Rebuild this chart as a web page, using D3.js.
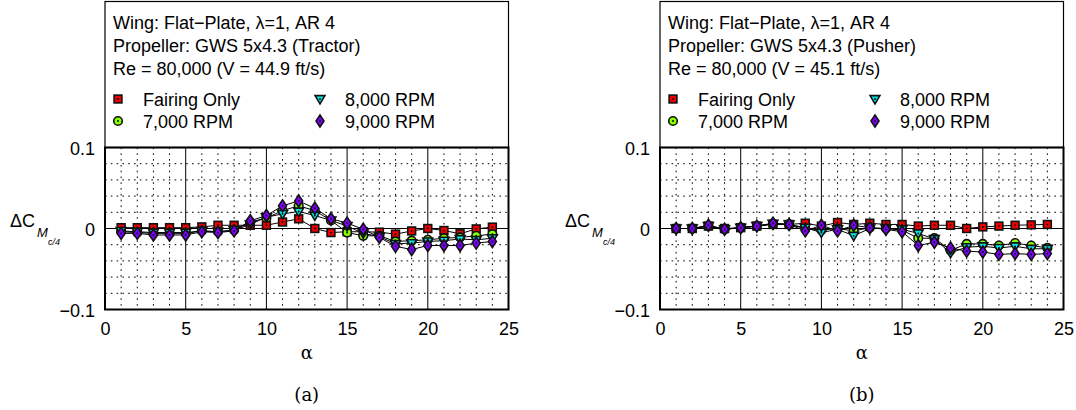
<!DOCTYPE html>
<html><head><meta charset="utf-8">
<script src="https://cdn.jsdelivr.net/npm/d3@7"></script>
<style>body{margin:0;background:#fff}svg{display:block}</style>
</head><body>
<svg id="c" width="1076" height="410"></svg>
<script>
const alpha = [1,2,3,4,5,6,7,8,9,10,11,12,13,14,15,16,17,18,19,20,21,22,23,24];
const xTicks = [0,5,10,15,20,25];
const yTicks = [-0.1,0,0.1];
const seriesNames = ["Fairing Only","7,000 RPM","8,000 RPM","9,000 RPM"];

// (a) Tractor
const fairingA = [0.001,0.001,0.001,0.001,0.001,0.002,0.004,0.004,0.004,0.004,0.008,0.012,0.000,-0.005,-0.004,-0.004,-0.0045,-0.007,-0.003,0.000,-0.0025,-0.0065,-0.0005,0.0017];
const rpm7A = [-0.004,-0.005,-0.006,-0.006,-0.006,-0.003,-0.004,-0.002,0.008,0.013,0.022,0.028,0.022,0.010,-0.005,-0.009,-0.009,-0.016,-0.015,-0.014,-0.012,-0.011,-0.009,-0.007];
const rpm8A = [-0.003,-0.004,-0.005,-0.005,-0.005,-0.003,-0.004,-0.002,0.005,0.014,0.018,0.021,0.016,0.010,0.003,-0.006,-0.010,-0.019,-0.018,-0.016,-0.015,-0.013,-0.014,-0.012];
const rpm9A = [-0.006,-0.006,-0.008,-0.008,-0.008,-0.004,-0.005,-0.003,0.0095,0.016,0.028,0.034,0.025,0.012,0.0067,-0.001,-0.011,-0.022,-0.026,-0.021,-0.021,-0.021,-0.018,-0.016];

// (b) Pusher
const fairingB = [0.000,0.000,0.003,0.000,0.001,0.003,0.005,0.005,0.0065,0.003,0.0074,0.005,0.0065,0.005,0.005,0.003,0.004,0.004,0.000,0.002,0.003,0.004,0.0045,0.005];
const rpm7B = [0.000,0.000,0.003,-0.001,0.001,0.003,0.006,0.005,0.000,-0.002,0.000,-0.003,0.001,0.000,-0.002,-0.012,-0.012,-0.027,-0.019,-0.019,-0.021,-0.018,-0.021,-0.024];
const rpm8B = [0.000,0.000,0.003,-0.001,0.001,0.003,0.006,0.005,0.001,-0.005,-0.001,-0.009,0.000,0.000,-0.001,-0.006,-0.013,-0.030,-0.023,-0.022,-0.024,-0.022,-0.025,-0.025];
const rpm9B = [0.000,0.000,0.004,-0.001,0.001,0.003,0.0065,0.005,-0.003,0.004,-0.003,0.004,0.001,-0.001,-0.004,-0.021,-0.017,-0.024,-0.028,-0.029,-0.032,-0.031,-0.032,-0.031];

const panels = [
  {ox:105, caption:"(a)", lines:["Wing: Flat\u2212Plate, \u03bb=1, AR 4","Propeller: GWS 5x4.3 (Tractor)","Re = 80,000 (V = 44.9 ft/s)"], data:[fairingA,rpm7A,rpm8A,rpm9A]},
  {ox:660, caption:"(b)", lines:["Wing: Flat\u2212Plate, \u03bb=1, AR 4","Propeller: GWS 5x4.3 (Pusher)","Re = 80,000 (V = 45.1 ft/s)"], data:[fairingB,rpm7B,rpm8B,rpm9B]}
];

const colors = ["#ee0000","#88ff00","#00e8e8","#7f00ff"];
const shapes = ["square","circle","triangle","diamond"];
const FONT = "'Liberation Sans', Arial, Helvetica, sans-serif";
const SERIF = "'DejaVu Serif', 'Liberation Serif', serif";

const svg = d3.select("#c");

function marker(g, shape, color, cx, cy) {
  const m = g.append("g").attr("transform", `translate(${cx},${cy})`);
  let p;
  if (shape === "square") p = m.append("rect").attr("x",-3.9).attr("y",-3.9).attr("width",7.8).attr("height",7.8);
  else if (shape === "circle") p = m.append("circle").attr("r",4.3);
  else if (shape === "triangle") p = m.append("path").attr("d","M-4.9,-3.4L4.9,-3.4L0,4.9Z");
  else p = m.append("path").attr("d","M0,-6L4,0L0,6L-4,0Z");
  p.attr("fill", color).attr("stroke","#111").attr("stroke-width",1.6);
  m.append("circle").attr("r",0.9).attr("fill","#000");
}

panels.forEach(P => {
  const x = d3.scaleLinear().domain([0,25]).range([P.ox, P.ox+403.5]);
  const y = d3.scaleLinear().domain([-0.1,0.1]).range([309.5,147.5]);
  const g = svg.append("g");

  // minor dotted grid
  d3.range(1,25).filter(v => v%5 !== 0).forEach(v => {
    g.append("line").attr("x1",x(v)).attr("x2",x(v)).attr("y1",y(0.1)).attr("y2",y(-0.1))
      .attr("stroke","#000").attr("stroke-width",1).attr("stroke-dasharray","1.6,4.2");
  });
  [-0.08,-0.06,-0.04,-0.02,0.02,0.04,0.06,0.08].forEach(v => {
    g.append("line").attr("x1",x(0)).attr("x2",x(25)).attr("y1",y(v)).attr("y2",y(v))
      .attr("stroke","#000").attr("stroke-width",1).attr("stroke-dasharray","1.6,4.2");
  });
  // major solid grid
  [5,10,15,20].forEach(v => {
    g.append("line").attr("x1",x(v)).attr("x2",x(v)).attr("y1",y(0.1)).attr("y2",y(-0.1))
      .attr("stroke","#000").attr("stroke-width",1);
  });
  g.append("line").attr("x1",x(0)).attr("x2",x(25)).attr("y1",y(0)).attr("y2",y(0))
    .attr("stroke","#000").attr("stroke-width",1);

  // series
  P.data.forEach((vals, i) => {
    const pts = alpha.map((a,k) => [a, vals[k]]);
    g.append("path").datum(pts)
      .attr("d", d3.line().x(d => x(d[0])).y(d => y(d[1])))
      .attr("fill","none").attr("stroke","#000").attr("stroke-width",1);
  });
  P.data.forEach((vals, i) => {
    alpha.forEach((a,k) => marker(g, shapes[i], colors[i], x(a), y(vals[k])));
  });

  // frame
  g.append("rect").attr("x",x(0)).attr("y",y(0.1)).attr("width",x(25)-x(0)).attr("height",y(-0.1)-y(0.1))
    .attr("fill","none").attr("stroke","#000").attr("stroke-width",2);

  // axes (labels only)
  const xa = g.append("g").attr("transform",`translate(0,${y(-0.1)})`)
    .call(d3.axisBottom(x).tickValues(xTicks).tickSize(0).tickPadding(13).tickFormat(d3.format("d")));
  xa.select(".domain").remove();
  xa.selectAll("text").attr("font-family",FONT).attr("font-size",18).attr("fill","#000");
  const ya = g.append("g").attr("transform",`translate(${x(0)},0)`)
    .call(d3.axisLeft(y).tickValues(yTicks).tickSize(0).tickPadding(10).tickFormat(d => d === 0 ? "0" : d3.format(".1f")(d)));
  ya.select(".domain").remove();
  ya.selectAll("text").attr("font-family",FONT).attr("font-size",18).attr("fill","#000").attr("dy","0.4em");

  // x label
  g.append("text").attr("x",(x(0)+x(25))/2).attr("y",359).attr("text-anchor","middle")
    .attr("font-family",SERIF).attr("font-size",18).text("\u03b1");
  // caption
  g.append("text").attr("x",(x(0)+x(25))/2).attr("y",401).attr("text-anchor","middle")
    .attr("font-family",SERIF).attr("font-size",18).text(P.caption);
  // y label
  const yl = g.append("text").attr("x",P.ox-95).attr("y",227).attr("font-family",FONT).attr("font-size",18).attr("fill","#000");
  yl.append("tspan").text("\u0394C");
  yl.append("tspan").attr("dx",2).attr("dy",10).attr("font-size",13).attr("font-style","italic").text("M");
  yl.append("tspan").attr("dx",0).attr("dy",8).attr("font-size",9).attr("font-style","italic").text("c/4");

  // legend box
  g.append("rect").attr("x",x(0)).attr("y",1.5).attr("width",x(25)-x(0)).attr("height",y(0.1)-1.5)
    .attr("fill","none").attr("stroke","#000").attr("stroke-width",1.2);
  P.lines.forEach((t,i) => {
    g.append("text").attr("x",P.ox+8).attr("y",[29,52,75][i]).attr("font-family",FONT).attr("font-size",18).text(t);
  });
  const legPos = [[0,0],[0,1],[1,0],[1,1]];
  seriesNames.forEach((n,i) => {
    const [c,r] = legPos[i];
    const lx = P.ox + 13 + c*202, ly = 99 + r*22;
    marker(g, shapes[i], colors[i], lx, ly);
    g.append("text").attr("x",lx+25).attr("y",ly+6.5).attr("font-family",FONT).attr("font-size",18).text(n);
  });
});
</script>
</body></html>
